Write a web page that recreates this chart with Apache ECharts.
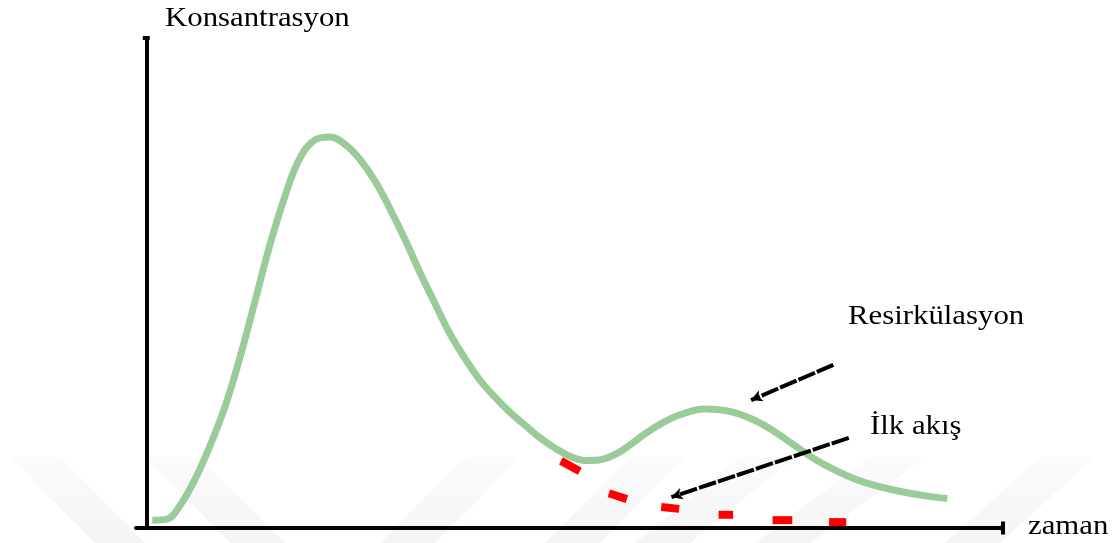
<!DOCTYPE html>
<html>
<head>
<meta charset="utf-8">
<script src="https://cdn.jsdelivr.net/npm/echarts@6/dist/echarts.min.js"></script>
<style>html,body{margin:0;padding:0;background:#fff}#c{width:1115px;height:543px}</style>
</head>
<body>
<div id="c"></div>
<script>
// Concentration curve (time, concentration) in arbitrary units
const curveTime = [0.7,2.4,3.9,5.7,7.4,9.2,10.9,12.7,14.4,16.2,17.9,19.7,21.4,23.2,24.9,26.7,28.4,30.2,31.9,33.7,35.4,37.2,38.9,40.7,42.4,44.2,45.9,47.7,49.5,51.2,52.9,54.7,56.5,58.2,60.0,62.3,65.2,68.1,71.0,73.4,75.7,78.0,80.4,82.7,85.0,87.9,90.8,93.5];
const curveConc = [1.6,1.8,4.5,10.0,16.6,24.8,34.6,46.3,57.6,67.8,75.4,79.2,79.8,78.3,75.3,70.8,65.3,58.9,52.3,45.8,39.8,34.6,30.3,26.7,23.7,21.0,18.5,16.3,14.6,13.8,13.9,15.0,17.0,19.2,21.2,23.1,24.3,23.8,22.0,19.6,16.8,14.1,11.8,10.0,8.7,7.5,6.6,6.0];
// First-pass extrapolation dashes: [t0, c0, t1, c1]
const firstPassDashes = [
  [48.4,13.7,50.6,11.6],
  [54.0,7.1,56.1,5.9],
  [60.1,4.3,62.2,3.9],
  [66.8,2.7,68.5,2.7],
  [73.1,1.6,75.4,1.6],
  [79.7,1.2,81.7,1.2]
];
// Annotation arrows: [fromT, fromC, toT, toC]
const recircArrow = [80.2,33.3,70.6,26.1];
const firstPassArrow = [82.0,18.4,61.3,6.3];
const yAxisLabel = 'Konsantrasyon';
const xAxisLabel = 'zaman';
const recircLabel = 'Resirkülasyon';
const firstPassLabel = 'İlk akış';

const chart = echarts.init(document.getElementById('c'));
const font = 'Liberation Serif';

const series = [{
  type: 'line',
  data: curveTime.map((t,i)=>[t, curveConc[i]]),
  smooth: 0.4,
  symbol: 'none',
  lineStyle: {color: '#99cc99', width: 7},
  z: 3,
  markLine: {
    silent: true,
    symbol: ['none','arrow'],
    symbolSize: [9, 11],
    label: {show: false},
    lineStyle: {color: '#000', width: 4, type: [18,2]},
    data: [recircArrow, firstPassArrow].map(a => [
      {coord: [a[0], a[1]]},
      {coord: [a[2], a[3]]}
    ])
  }
}];
firstPassDashes.forEach(d => {
  series.push({
    type: 'line',
    data: [[d[0], d[1]], [d[2], d[3]]],
    symbol: 'none',
    lineStyle: {color: '#ff0000', width: 8, cap: 'butt'},
    z: 4
  });
});

// faint watermark bands (decoration)
const bands = [
  [[10,457],[60,457],[145,543],[95,543]],
  [[145,457],[200,457],[285,543],[230,543]],
  [[465,457],[520,457],[435,543],[380,543]],
  [[630,457],[685,457],[600,543],[545,543]],
  [[740,457],[795,457],[690,543],[635,543]],
  [[870,457],[925,457],[810,543],[755,543]],
  [[1040,457],[1095,457],[1000,543],[945,543]]
];
const grad = new echarts.graphic.LinearGradient(0,0,0,1,[
  {offset:0, color:'rgba(0,0,0,0.015)'},
  {offset:1, color:'rgba(0,0,0,0.045)'}
]);
const graphics = bands.map(p => ({
  type: 'polygon', silent: true, z: -10,
  shape: {points: p},
  style: {fill: grad}
}));
function txt(text, x, y) {
  return {type: 'text', x: x, y: y, scaleX: 1.1, z: 10,
    style: {text: text, x: 0, y: 0, fill: '#000', font: '28px "' + font + '"', align: 'left', verticalAlign: 'middle'}};
}
graphics.push(txt(yAxisLabel, 165, 19));
graphics.push(txt(xAxisLabel, 1028, 526.5));
graphics.push(txt(recircLabel, 848, 316.5));
graphics.push(txt(firstPassLabel, 870, 426.5));

chart.setOption({
  backgroundColor: '#fff',
  animation: false,
  grid: {left: 136, right: 112, top: 38, bottom: 15},
  xAxis: {
    type: 'value', min: -1.2, max: 100,
    axisLine: {show: true, onZero: false, lineStyle: {color: '#000', width: 4},
      symbol: ['none','rect'], symbolSize: [13, 4]},
    axisTick: {show: false}, axisLabel: {show: false}, splitLine: {show: false}
  },
  yAxis: {
    type: 'value', min: 0, max: 100,
    axisLine: {show: true, onZero: true, lineStyle: {color: '#000', width: 4},
      symbol: ['none','rect'], symbolSize: [7, 4]},
    axisTick: {show: false}, axisLabel: {show: false}, splitLine: {show: false}
  },
  graphic: graphics,
  series: series
});
</script>
</body>
</html>
